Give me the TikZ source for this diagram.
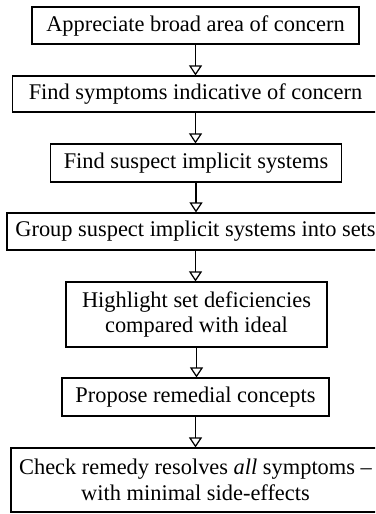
\documentclass[tikz,border=0pt]{standalone}
\usepackage{fontspec}
\setmainfont{Liberation Serif}
\usetikzlibrary{arrows.meta}
\begin{document}
\begin{tikzpicture}[x=1pt, y=-1pt,
  stepbox/.style={draw=black, line width=1.2pt, inner sep=0pt, align=center,
    font=\fontsize{22.4}{25.5}\selectfont},
  flowarrow/.style={draw=black, line width=1.2pt,
    -{Triangle[open, length=10pt, width=13pt]}}]
  \useasboundingbox (0,0) rectangle (375,514);
  \clip (0,0) rectangle (375,514);
  % process steps, top to bottom
  \node[stepbox, minimum width=327pt, minimum height=37pt] (b1) at (195.5,25.5)
    {Appreciate broad area of concern};
  \node[stepbox, minimum width=366pt, minimum height=36pt] (b2) at (195.5,94)
    {Find symptoms indicative of concern};
  \node[stepbox, minimum width=291pt, minimum height=38pt] (b3) at (196,163)
    {Find suspect implicit systems};
  \node[stepbox, minimum width=377pt, minimum height=37pt] (b4) at (195.5,231.5)
    {Group suspect implicit systems into sets};
  \node[stepbox, minimum width=261pt, minimum height=65pt] (b5) at (196.5,314.5)
    {Highlight set deficiencies\\compared with ideal};
  \node[stepbox, minimum width=267pt, minimum height=38pt] (b6) at (195.5,397)
    {Propose remedial concepts};
  \node[stepbox, minimum width=369pt, minimum height=64pt] (b7) at (195.5,480)
    {Check remedy resolves \textit{all} symptoms –\\with minimal side-effects};
  % connectors
  \foreach \a/\b in {b1/b2, b2/b3, b3/b4, b4/b5, b5/b6, b6/b7}
    \draw[flowarrow] (\a.south) -- (\a.south |- \b.north);
\end{tikzpicture}
\end{document}
